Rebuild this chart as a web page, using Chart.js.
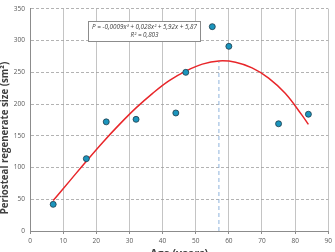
<!DOCTYPE html>
<html>
<head>
<meta charset="utf-8">
<script src="https://cdn.jsdelivr.net/npm/chart.js@4.4.0/dist/chart.umd.min.js"></script>
<style>
  html, body { margin: 0; padding: 0; background: #fff; }
  #wrap { width: 335px; height: 252px; }
</style>
</head>
<body>
<div id="wrap"><canvas id="chart" width="335" height="252"></canvas></div>
<script>
// measured points: age vs regenerate size
const ages = [7, 17, 23, 32, 44, 47, 55, 60, 75, 84];
const sizes = [42, 114, 172, 176, 186, 250, 322, 291, 169, 184];

// trend curve
const fitAges = [7, 12, 17, 22, 27, 32, 37, 42, 47, 52, 57, 62, 67, 72, 77, 82, 84];
const fitSizes = [48, 79, 110, 140, 168, 194, 217, 237, 252, 263, 268, 266, 257, 241, 217, 183, 168];

// vertical marker at the peak
const peakAge = 57;
const peakSize = 267;

const xTicks = [0, 10, 20, 30, 40, 50, 60, 70, 80, 90];
const yTicks = [0, 50, 100, 150, 200, 250, 300, 350];

const equationText = 'P = -0,0009x\u00b3 + 0,028x\u00b2 + 5,92x + 5,87';
const r2Text = 'R\u00b2 = 0,803';
const yTitle = 'Periosteal regenerate size (sm\u00b2)';

const fontFamily = '"Open Sans", "DejaVu Sans", sans-serif';

// box with the regression equation + y title (sits a bit below centre, like Excel)
const extras = {
    id: 'extras',
    afterDatasetsDraw(chart) {
        const ctx = chart.ctx;
        ctx.save();
        ctx.fillStyle = '#fff';
        ctx.fillRect(88.5, 21.5, 112, 20);
        ctx.strokeStyle = '#8c8c8c';
        ctx.lineWidth = 1;
        ctx.strokeRect(88.5, 21.5, 112, 20);
        ctx.fillStyle = '#404040';
        ctx.font = 'italic 6.3px ' + fontFamily;
        ctx.textAlign = 'center';
        ctx.textBaseline = 'middle';
        ctx.fillText(equationText, 144.5, 27);
        ctx.fillText(r2Text, 144.5, 35.5);

        ctx.translate(5.5, 138);
        ctx.rotate(-Math.PI / 2);
        ctx.font = 'bold 9.7px ' + fontFamily;
        ctx.fillText(yTitle, 0, 0);
        ctx.restore();
    }
};

new Chart(document.getElementById('chart').getContext('2d'), {
    type: 'scatter',
    data: {
        datasets: [
            {
                type: 'line',
                data: [{ x: peakAge, y: 0 }, { x: peakAge, y: peakSize }],
                borderColor: '#8fb4dc',
                borderWidth: 1,
                borderDash: [4, 3],
                pointRadius: 0,
                order: 3
            },
            {
                type: 'line',
                data: fitAges.map((a, i) => ({ x: a, y: fitSizes[i] })),
                borderColor: '#e8262a',
                borderWidth: 1.5,
                pointRadius: 0,
                tension: 0.4,
                order: 2
            },
            {
                data: ages.map((a, i) => ({ x: a, y: sizes[i] })),
                backgroundColor: '#1b95bd',
                borderColor: '#1d3b4a',
                borderWidth: 0.8,
                pointRadius: 3,
                order: 1
            }
        ]
    },
    options: {
        responsive: false,
        animation: false,
        layout: { padding: { left: 0, right: 5, top: 8, bottom: 0 } },
        plugins: { legend: { display: false }, tooltip: { enabled: false } },
        scales: {
            x: {
                type: 'linear',
                min: 0,
                max: 90,
                afterBuildTicks(scale) { scale.ticks = xTicks.map(v => ({ value: v })); },
                afterFit(scale) { scale.height = 21; },
                grid: { color: '#c4c4c4', lineWidth: 1, drawTicks: true, tickLength: 3, tickColor: '#8c8c8c' },
                border: { color: '#8c8c8c', width: 1 },
                ticks: { color: '#595959', font: { size: 6.5, family: fontFamily }, padding: 3, maxRotation: 0 },
                title: {
                    display: true,
                    text: 'Age (years)',
                    color: '#404040',
                    font: { size: 10.5, weight: 'bold', family: fontFamily },
                    padding: { top: 0, bottom: -8 }
                }
            },
            y: {
                min: 0,
                max: 350,
                afterBuildTicks(scale) { scale.ticks = yTicks.map(v => ({ value: v })); },
                afterFit(scale) { scale.width = 30; },
                grid: { color: '#a0a0a0', lineWidth: 0.8, drawTicks: false },
                border: { color: '#8c8c8c', width: 1, dash: [3, 2] },
                ticks: { color: '#595959', font: { size: 6.5, family: fontFamily }, padding: 5 },
                title: { display: false }
            }
        }
    },
    plugins: [extras]
});
</script>
</body>
</html>
